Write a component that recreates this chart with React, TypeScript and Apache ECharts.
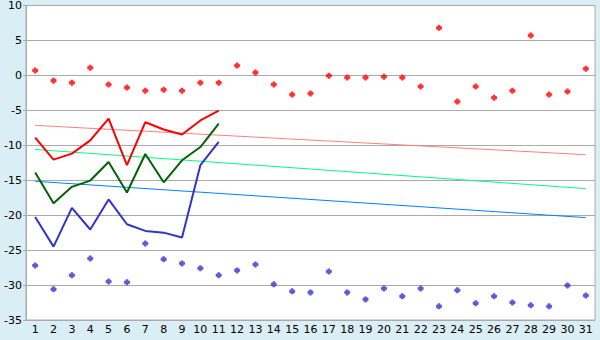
import React, { useEffect, useRef } from "react";
import * as echarts from "echarts";

const categories = Array.from({ length: 31 }, (_, i) => String(i + 1));

const redPoints = [0.7, -0.75, -1.05, 1.1, -1.3, -1.75, -2.2, -2.05, -2.2, -1.05, -1.05, 1.4, 0.4, -1.3, -2.75, -2.6, -0.05, -0.3, -0.3, -0.2, -0.3, -1.6, 6.8, -3.75, -1.6, -3.2, -2.2, 5.7, -2.75, -2.3, 0.95];
const bluePoints = [-27.2, -30.6, -28.6, -26.2, -29.5, -29.6, -24.05, -26.3, -26.9, -27.6, -28.6, -27.9, -27.05, -29.9, -30.9, -31.05, -28.05, -31.05, -32.05, -30.5, -31.6, -30.5, -33.05, -30.75, -32.6, -31.6, -32.5, -32.9, -33.05, -30.05, -31.5];

const redLine = [-8.9, -12.05, -11.2, -9.3, -6.2, -12.85, -6.7, -7.75, -8.45, -6.45, -5.05];
const greenLine = [-13.9, -18.3, -15.95, -15.05, -12.4, -16.75, -11.25, -15.3, -12.15, -10.25, -6.9];
const blueLine = [-20.25, -24.5, -18.95, -22.05, -17.75, -21.3, -22.25, -22.5, -23.2, -12.85, -9.5];

const trendRed = [-7.15, -11.35];
const trendGreen = [-10.6, -16.2];
const trendBlue = [-15.15, -20.35];

const yTicks = { min: -35, max: 10, interval: 5 };

const plus = "path://M1.5,0H3.5V1H4.5V1.5H5V3.5H4.5V4H3.5V5H1.5V4H0.5V3.5H0V1.5H0.5V1H1.5Z";

function trendData(v: number[]) {
  return [
    [categories[0], v[0]],
    [categories[categories.length - 1], v[1]],
  ];
}

export default function App() {
  const ref = useRef<HTMLDivElement>(null);
  useEffect(() => {
    if (!ref.current) return;
    const chart = echarts.init(ref.current, undefined, { renderer: "svg" });
    const font = { fontFamily: "DejaVu Sans", fontSize: 11, color: "#000" };
    chart.setOption({
      animation: false,
      backgroundColor: "#daeef5",
      grid: {
        left: 26,
        right: 5,
        top: 5,
        bottom: 20,
        show: true,
        backgroundColor: "#ffffff",
        borderColor: "#aaaaaa",
        borderWidth: 1,
      },
      xAxis: {
        type: "category",
        data: categories,
        boundaryGap: true,
        axisLine: { lineStyle: { color: "#aaaaaa", width: 1 } },
        axisTick: { alignWithLabel: true, length: 6, lineStyle: { color: "#aaaaaa" } },
        axisLabel: { ...font, interval: 0, margin: 4 },
        splitLine: { show: false },
      },
      yAxis: {
        type: "value",
        min: yTicks.min,
        max: yTicks.max,
        interval: yTicks.interval,
        axisLine: { show: true, lineStyle: { color: "#aaaaaa" } },
        axisTick: { show: true, length: 3, lineStyle: { color: "#aaaaaa" } },
        axisLabel: { ...font, margin: 4 },
        splitLine: { lineStyle: { color: "#aaaaaa", width: 1 } },
      },
      series: [
        { type: "line", data: trendData(trendRed), symbol: "none", lineStyle: { color: "#ff8080", width: 1 } },
        { type: "line", data: trendData(trendGreen), symbol: "none", lineStyle: { color: "#00ff80", width: 1 } },
        { type: "line", data: trendData(trendBlue), symbol: "none", lineStyle: { color: "#0080ff", width: 1 } },
        { type: "line", data: redLine, symbol: "none", lineStyle: { color: "#ff0000", width: 2 } },
        { type: "line", data: greenLine, symbol: "none", lineStyle: { color: "#006400", width: 2 } },
        { type: "line", data: blueLine, symbol: "none", lineStyle: { color: "#3333cc", width: 2 } },
        { type: "scatter", data: redPoints, symbol: plus, symbolSize: 6, itemStyle: { color: "#ff0000" } },
        { type: "scatter", data: bluePoints, symbol: plus, symbolSize: 6, itemStyle: { color: "#3333cc" } },
      ],
    });
    return () => chart.dispose();
  }, []);
  return (
    <div
      ref={ref}
      style={{ position: "fixed", left: 0, top: 0, width: 600, height: 340 }}
    />
  );
}
